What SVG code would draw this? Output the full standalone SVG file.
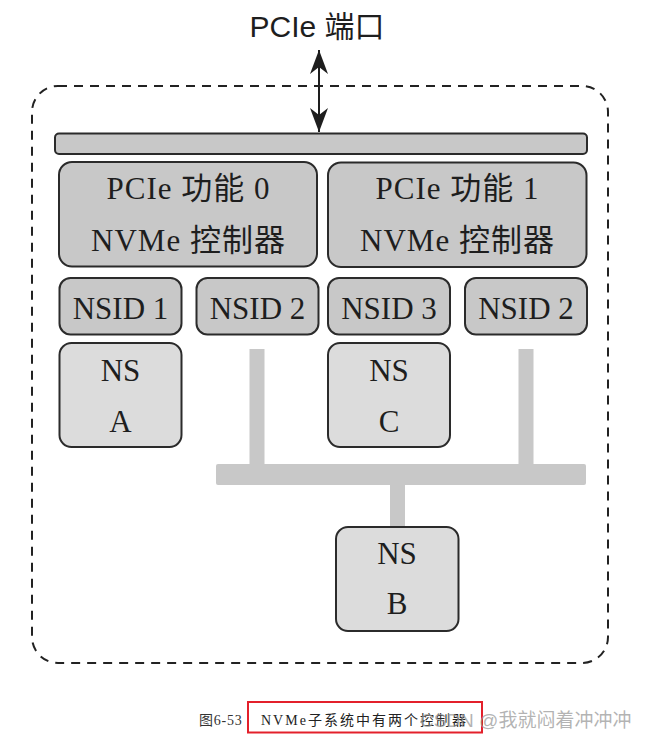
<svg xmlns="http://www.w3.org/2000/svg" width="645" height="741" viewBox="0 0 645 741">
<defs>
<style>
.box{stroke:#2b2b2b;stroke-width:2}
.dark{fill:#c8c8c8}
.light{fill:#dcdcdc}
.t{font-family:"Liberation Serif","Noto Sans CJK SC",serif;fill:#1e1e1e;text-anchor:middle}
.c{font-size:31px;letter-spacing:1px}
.conn{fill:#c8c8c8}
</style>
<marker id="ah" viewBox="0 0 24 20" refX="24" refY="10" markerWidth="24" markerHeight="20" markerUnits="userSpaceOnUse" orient="auto-start-reverse">
<path d="M0,1 L24,10 L0,19 L7,10 Z" fill="#1e1e1e"/>
</marker>
</defs>
<rect width="645" height="741" fill="#ffffff"/>

<g id="subsystem">
<rect x="32" y="86" width="576" height="577" rx="26" fill="none" stroke="#222" stroke-width="2" stroke-dasharray="9 7"/>
</g>

<g id="title">
<text x="317" y="37" font-family="Liberation Sans,'Noto Sans CJK SC',sans-serif" font-size="30" fill="#1e1e1e" text-anchor="middle">PCIe 端口</text>
</g>

<g id="connectors">
<line x1="319" y1="50" x2="319" y2="132" stroke="#1e1e1e" stroke-width="2" marker-start="url(#ah)" marker-end="url(#ah)"/>
<rect class="conn" x="249.5" y="349" width="15" height="118"/>
<rect class="conn" x="518.5" y="349" width="15" height="118"/>
<rect class="conn" x="216" y="464" width="370" height="21" rx="2"/>
<rect class="conn" x="390" y="484" width="15" height="43"/>
</g>

<g id="pcie-bus">
<rect class="box dark" x="55" y="133.5" width="532" height="20.5" rx="4"/>
</g>

<g id="ctrl0">
<rect class="box dark" x="59" y="162" width="258" height="104.5" rx="13"/>
<text class="t c" x="188.5" y="199">PCIe 功能 0</text>
<text class="t c" x="188.5" y="251">NVMe 控制器</text>
</g>

<g id="ctrl1">
<rect class="box dark" x="328" y="162.5" width="258.5" height="104.5" rx="13"/>
<text class="t c" x="457.5" y="199">PCIe 功能 1</text>
<text class="t c" x="457.5" y="251">NVMe 控制器</text>
</g>

<g id="nsid1">
<rect class="box dark" x="59.5" y="278" width="122" height="56.5" rx="11"/>
<text class="t" x="120.5" y="319" font-size="31">NSID 1</text>
</g>

<g id="nsid2a">
<rect class="box dark" x="196.5" y="278" width="122" height="56.5" rx="11"/>
<text class="t" x="257.5" y="319" font-size="31">NSID 2</text>
</g>

<g id="nsid3">
<rect class="box dark" x="328" y="278" width="122" height="56.5" rx="11"/>
<text class="t" x="389" y="319" font-size="31">NSID 3</text>
</g>

<g id="nsid2b">
<rect class="box dark" x="465" y="278" width="122" height="56.5" rx="11"/>
<text class="t" x="526" y="319" font-size="31">NSID 2</text>
</g>

<g id="nsA">
<rect class="box light" x="59.5" y="343" width="122" height="104" rx="12"/>
<text class="t" x="120.5" y="381" font-size="31">NS</text>
<text class="t" x="120.5" y="432" font-size="31">A</text>
</g>

<g id="nsC">
<rect class="box light" x="328" y="343" width="122" height="104" rx="12"/>
<text class="t" x="389" y="381" font-size="31">NS</text>
<text class="t" x="389" y="432" font-size="31">C</text>
</g>

<g id="nsB">
<rect class="box light" x="336" y="527" width="122.5" height="104" rx="12"/>
<text class="t" x="397" y="564" font-size="31">NS</text>
<text class="t" x="397" y="614" font-size="31">B</text>
</g>

<g id="caption">
<text x="199" y="725" font-family="Liberation Serif,'Noto Sans CJK SC',serif" font-size="14" fill="#333" letter-spacing="0.8">图6-53</text>
<text x="261" y="725" font-family="Liberation Serif,'Noto Sans CJK SC',serif" font-size="14" fill="#222" letter-spacing="2">NVMe子系统中有两个控制器</text>
<rect x="248" y="702" width="234" height="30.5" fill="none" stroke="#e3202b" stroke-width="2"/>
<text x="420" y="727" font-family="Liberation Sans,'Noto Sans CJK SC',sans-serif" font-size="19" fill="#9a9a9a" fill-opacity="0.75">CSDN @我就闷着冲冲冲</text>
</g>
</svg>
